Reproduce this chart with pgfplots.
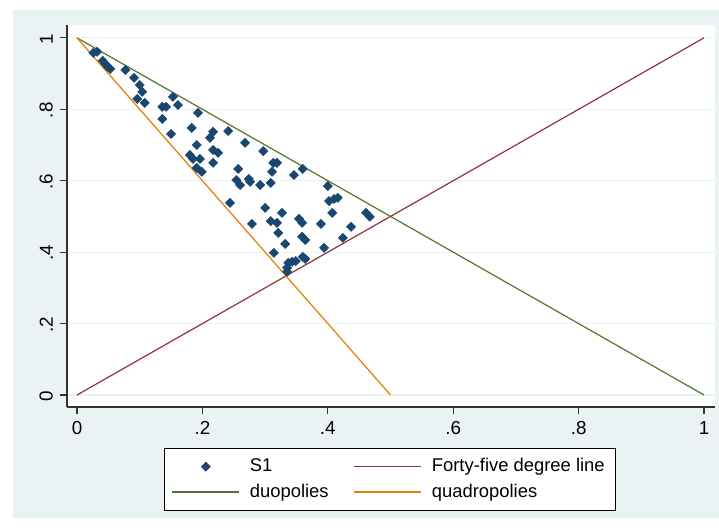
\documentclass[border=0pt]{standalone}
\usepackage{pgfplots}
\pgfplotsset{compat=1.18}
\usepackage{fontspec}
\setmainfont{Liberation Sans}
\definecolor{bgblue}{HTML}{EAF2F3}
\definecolor{snavy}{HTML}{1A476F}
\definecolor{smaroon}{HTML}{90353B}
\definecolor{sgreen}{HTML}{55752F}
\definecolor{sorange}{HTML}{E37E00}
\begin{document}
\begin{tikzpicture}[x=0.5pt,y=0.5pt]
\fill[white] (-67,-120) rectangle (652,407);
\fill[bgblue] (-54,-111) rectangle (652,397);
\begin{axis}[
  at={(0,0)}, anchor=south west,
  scale only axis, width=324pt, height=191pt,
  xmin=-0.016, xmax=1.0175, ymin=-0.0336, ymax=1.036,
  axis x line*=bottom, axis y line*=left,
  axis line style={draw=black!80, line width=0.7pt},
  axis background/.style={fill=white},
  tick align=outside, major tick length=3.5pt,
  tick style={black!80, line width=0.6pt},
  xtick={0,0.2,0.4,0.6,0.8,1}, xticklabels={0,.2,.4,.6,.8,1},
  ytick={0,0.2,0.4,0.6,0.8,1}, yticklabels={0,.2,.4,.6,.8,1},
  ymajorgrids, grid style={bgblue, line width=0.6pt},
  yticklabel style={rotate=90, anchor=south, xshift=-0.5pt},
  ticklabel style={font=\fontsize{9.4}{11}\selectfont},
  legend image code/.code={\draw[mark repeat=2,mark phase=2,#1] plot coordinates {(0pt,0pt) (16.75pt,0pt) (33.5pt,0pt)};},
  legend columns=2,
  legend cell align=left,
  legend style={at={(axis description cs:0.1497,-0.107)}, anchor=north west,
    draw=black, line width=0.7pt, fill=white,
    font=\fontsize{9.2}{11}\selectfont,
    inner xsep=3.5pt, inner ysep=3pt, row sep=0.5pt,
    /tikz/every odd column/.append style={column sep=3pt},
    /tikz/every even column/.append style={column sep=10.5pt}},
]
\addplot[only marks, mark=square*, mark size=1.6pt, line width=0.3pt,
  mark options={rotate=45, fill=snavy, draw=snavy}] coordinates {
(0.026,0.958) (0.032,0.961) (0.041,0.936) (0.045,0.927) (0.049,0.919)
(0.053,0.913) (0.077,0.910) (0.091,0.888) (0.100,0.868) (0.104,0.849)
(0.096,0.829) (0.108,0.818) (0.136,0.807) (0.142,0.807) (0.153,0.835)
(0.161,0.812) (0.136,0.773) (0.193,0.790) (0.150,0.731) (0.183,0.748)
(0.217,0.737) (0.212,0.720) (0.241,0.739) (0.191,0.700) (0.217,0.686)
(0.225,0.678) (0.268,0.706) (0.297,0.683) (0.180,0.672) (0.185,0.661)
(0.196,0.661) (0.217,0.650) (0.191,0.636) (0.199,0.625) (0.313,0.650)
(0.319,0.650) (0.311,0.625) (0.257,0.633) (0.346,0.616) (0.360,0.633)
(0.254,0.602) (0.260,0.588) (0.274,0.605) (0.276,0.597) (0.292,0.588)
(0.309,0.594) (0.400,0.585) (0.402,0.543) (0.410,0.549) (0.416,0.552)
(0.407,0.510) (0.461,0.510) (0.467,0.499) (0.244,0.538) (0.300,0.524)
(0.327,0.510) (0.309,0.487) (0.319,0.482) (0.279,0.479) (0.354,0.493)
(0.359,0.482) (0.389,0.479) (0.321,0.454) (0.359,0.443) (0.364,0.434)
(0.332,0.423) (0.437,0.471) (0.424,0.440) (0.394,0.412) (0.314,0.398)
(0.337,0.370) (0.343,0.373) (0.349,0.375) (0.360,0.387) (0.364,0.381)
(0.335,0.356) (0.335,0.345)
};
\addlegendentry{S1}
\addplot[smaroon, line width=0.6pt] coordinates {(0,0) (1,1)};
\addlegendentry{Forty-five degree line}
\addplot[sgreen, line width=0.6pt] coordinates {(0,1) (1,0)};
\addlegendentry{duopolies}
\addplot[sorange, line width=0.6pt] coordinates {(0,1) (0.5,0)};
\addlegendentry{quadropolies}
\end{axis}
\pgfresetboundingbox
\useasboundingbox (-67,-120) rectangle (652,407);
\end{tikzpicture}
\end{document}
